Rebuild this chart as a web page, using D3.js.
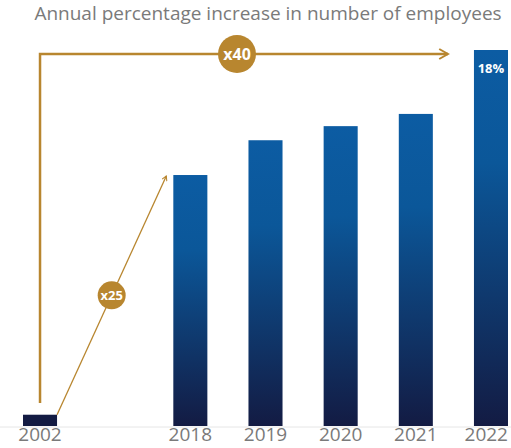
<!DOCTYPE html>
<html>
<head>
<meta charset="utf-8">
<script src="https://cdn.jsdelivr.net/npm/d3@7"></script>
<style>
	body { margin: 0; background: #fff; }
	svg { display: block; font-family: 'Open Sans', sans-serif; }
</style>
</head>
<body>
<div class="svg-container"></div>
<script>
// Chart data
var years = ['2002', '', '2018', '2019', '2020', '2021', '2022'];
var values = [1.2, null, 26.7, 30.4, 31.9, 33.2, 40];
var valueLabels = ['', '', '', '', '', '', '18%'];
var title = 'Annual percentage increase in number of employees';
var growthLabels = ['x25', 'x40'];

var width = 511;
var height = 448;
var baseline = 426;
var gold = '#b8862f';

var dataset = years.map(function(y, i) {
	return { year: y, value: values[i], label: valueLabels[i] };
}).filter(function(d) { return d.year !== ''; });

// Create SVG element
var svg = d3.select('.svg-container')
	.append('svg')
	.attr('width', width)
	.attr('height', height);

// Gradient for bars
var defs = svg.append('defs');
var grad = defs.append('linearGradient')
	.attr('id', 'barGrad')
	.attr('x1', 0).attr('y1', 0)
	.attr('x2', 0).attr('y2', 1);
grad.append('stop').attr('offset', '0%').attr('stop-color', '#0c5ca3');
grad.append('stop').attr('offset', '30%').attr('stop-color', '#0b5799');
grad.append('stop').attr('offset', '100%').attr('stop-color', '#131b43');

var marker = defs.append('marker')
	.attr('id', 'arrow')
	.attr('viewBox', '0 0 10 10')
	.attr('refX', 8)
	.attr('refY', 5)
	.attr('markerWidth', 5)
	.attr('markerHeight', 5)
	.attr('markerUnits', 'strokeWidth')
	.attr('orient', 'auto');
marker.append('path')
	.attr('d', 'M1,1 L8,5 L1,9')
	.attr('fill', 'none')
	.attr('stroke', gold)
	.attr('stroke-width', 1.6);

// Set up scales
var xScale = d3.scaleBand()
	.domain(years)
	.range([23, 508])
	.paddingInner(0.547)
	.paddingOuter(0);

var yScale = d3.scaleLinear()
	.domain([0, 40])
	.range([baseline, 50]);

// Title
svg.append('text')
	.attr('x', 268)
	.attr('y', 20)
	.attr('text-anchor', 'middle')
	.attr('fill', '#7a7a7a')
	.style('font-size', '19px')
	.text(title);

// Baseline
svg.append('line')
	.attr('x1', 0).attr('x2', width)
	.attr('y1', baseline + 1).attr('y2', baseline + 1)
	.attr('stroke', '#e6e6e6')
	.attr('stroke-width', 1);

// Draw rects
svg.selectAll('rect.bar')
	.data(dataset)
	.enter()
	.append('rect')
	.attr('class', 'bar')
	.attr('x', function(d) { return xScale(d.year); })
	.attr('y', function(d) { return yScale(d.value); })
	.attr('width', xScale.bandwidth())
	.attr('height', function(d) { return baseline - yScale(d.value); })
	.attr('fill', function(d, i) { return i === 0 ? '#131b43' : 'url(#barGrad)'; });

// Value label on top bar
svg.selectAll('text.value')
	.data(dataset.filter(function(d) { return d.label; }))
	.enter()
	.append('text')
	.attr('class', 'value')
	.attr('x', function(d) { return xScale(d.year) + xScale.bandwidth() / 2; })
	.attr('y', function(d) { return yScale(d.value) + 23; })
	.attr('text-anchor', 'middle')
	.attr('fill', '#fff')
	.style('font-size', '13px')
	.style('font-weight', 'bold')
	.text(function(d) { return d.label; });

// Year labels (kept inside the right edge)
svg.selectAll('text.year')
	.data(dataset)
	.enter()
	.append('text')
	.attr('class', 'year')
	.attr('y', 441)
	.attr('text-anchor', 'middle')
	.attr('fill', '#7a7a7a')
	.style('font-size', '19px')
	.text(function(d) { return d.year; })
	.attr('x', function(d) {
		var cx = xScale(d.year) + xScale.bandwidth() / 2;
		var half = this.getComputedTextLength() / 2;
		return Math.min(cx, width - 3 - half);
	});

// Growth arrows
var first = dataset[0];
var second = dataset[1];
var last = dataset[dataset.length - 1];
var bw = xScale.bandwidth();
var lineY = yScale(last.value) + 4;
var firstX = xScale(first.year) + bw / 2;

// x40: up from 2002 and across to 2022
svg.append('path')
	.attr('d', 'M' + firstX + ',' + (baseline - 23) +
		' L' + firstX + ',' + lineY +
		' L' + (xScale(last.year) - 26) + ',' + lineY)
	.attr('fill', 'none')
	.attr('stroke', gold)
	.attr('stroke-width', 2.5)
	.attr('marker-end', 'url(#arrow)');

// x25: diagonal from 2002 to 2018
var x0 = xScale(first.year) + bw;
var y0 = yScale(first.value);
var x1 = xScale(second.year) - 7;
var y1 = yScale(second.value) + 1;
svg.append('line')
	.attr('x1', x0).attr('y1', y0)
	.attr('x2', x1).attr('y2', y1)
	.attr('stroke', gold)
	.attr('stroke-width', 1.3)
	.attr('marker-end', 'url(#arrow)');

var badges = [
	{ label: growthLabels[0], x: x0 + (x1 - x0) * 0.5, y: y0 + (y1 - y0) * 0.5, r: 14, size: 13 },
	{ label: growthLabels[1], x: 237, y: lineY, r: 19, size: 16 }
];

var badge = svg.selectAll('g.badge')
	.data(badges)
	.enter()
	.append('g')
	.attr('class', 'badge')
	.attr('transform', function(d) { return 'translate(' + d.x + ', ' + d.y + ')'; });

badge.append('circle')
	.attr('r', function(d) { return d.r; })
	.attr('fill', gold);

badge.append('text')
	.attr('text-anchor', 'middle')
	.attr('dy', '0.36em')
	.attr('fill', '#fff')
	.style('font-size', function(d) { return d.size + 'px'; })
	.style('font-weight', 'bold')
	.text(function(d) { return d.label; });
</script>
</body>
</html>
